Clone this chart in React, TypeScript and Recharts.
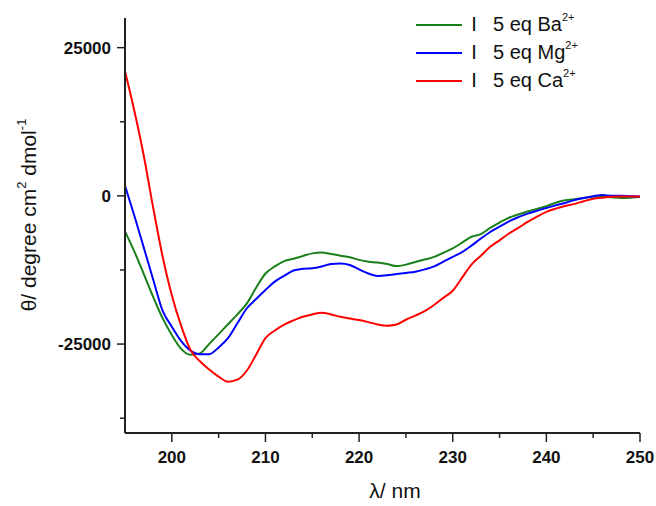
import React from 'react';
import { LineChart, Line, XAxis, YAxis, Legend } from 'recharts';

const wavelengths = [195,196,197,198,199,200,201,202,203,204,205,206,207,208,209,210,211,212,213,214,215,216,217,218,219,220,221,222,223,224,225,226,227,228,229,230,231,232,233,234,235,236,237,238,239,240,241,242,243,244,245,246,247,248,249,250];

const baValues = [-6000,-9400,-13160,-17000,-20580,-23470,-25800,-26800,-26570,-24960,-23320,-21660,-20000,-18190,-15500,-13100,-11900,-11000,-10600,-10150,-9700,-9550,-9800,-10100,-10350,-10800,-11100,-11250,-11500,-11850,-11600,-11150,-10750,-10300,-9600,-8850,-7900,-6900,-6450,-5400,-4500,-3700,-3150,-2650,-2200,-1750,-1150,-750,-550,-350,-150,-100,-250,-350,-300,-200];

const mgValues = [1700,-3350,-8690,-14070,-19300,-22070,-24500,-26100,-26700,-26700,-25560,-24000,-21500,-19000,-17400,-15880,-14470,-13480,-12600,-12300,-12200,-11900,-11500,-11400,-11650,-12400,-13100,-13500,-13400,-13200,-13000,-12800,-12400,-11900,-11100,-10300,-9500,-8400,-7200,-6100,-5200,-4300,-3600,-3000,-2500,-2050,-1600,-1200,-700,-350,-50,150,0,0,-50,-100];

const caValues = [21000,14300,6800,-1900,-10090,-16750,-21920,-26000,-27900,-29300,-30500,-31350,-31000,-29500,-26800,-24000,-22700,-21700,-21000,-20400,-20000,-19700,-20000,-20400,-20700,-20950,-21300,-21700,-21900,-21700,-20900,-20200,-19450,-18400,-17200,-16000,-13800,-11600,-10100,-8600,-7500,-6350,-5400,-4400,-3500,-2700,-2150,-1700,-1350,-900,-500,-300,-150,-100,-100,-100];

const xTicks = [200,205,210,215,220,225,230,235,240,245,250];
const yTicks = [-37500,-25000,-12500,0,12500,25000];

const seriesNames = ['5 eq Ba', '5 eq Mg', '5 eq Ca'];
const seriesColors = ['#1a801a', '#0000ff', '#ff0000'];
const seriesKeys = ['ba', 'mg', 'ca'];

const data = wavelengths.map((w, i) => ({ wl: w, ba: baValues[i], mg: mgValues[i], ca: caValues[i] }));

const FONT = 'Liberation Sans, Arial, Helvetica, sans-serif';
const AXIS_COLOR = '#222';

const XTick = (props: any) => {
  const { x, y, payload } = props;
  const v = payload.value;
  const major = v % 10 === 0;
  return (
    <g>
      <line x1={x} x2={x} y1={y} y2={y + (major ? 9 : 5)} stroke={AXIS_COLOR} strokeWidth={1.5} />
      {major && (
        <text x={x} y={y + 30} textAnchor="middle" fontFamily={FONT} fontWeight="bold" fontSize={17} fill="#111">
          {v}
        </text>
      )}
    </g>
  );
};

const YTick = (props: any) => {
  const { x, y, payload } = props;
  const v = payload.value;
  const major = v % 25000 === 0;
  return (
    <g>
      <line x1={x - (major ? 8 : 5)} x2={x} y1={y} y2={y} stroke={AXIS_COLOR} strokeWidth={1.5} />
      {major && (
        <text x={x - 14} y={y + 6} textAnchor="end" fontFamily={FONT} fontWeight="bold" fontSize={17} fill="#111">
          {v}
        </text>
      )}
    </g>
  );
};

const XTitle = () => (
  <text x={395} y={498} textAnchor="middle" fontFamily={FONT} fontSize={21} fill="#111">
    λ/ nm
  </text>
);

const YTitle = () => (
  <text transform="translate(36,215) rotate(-90)" textAnchor="middle" fontFamily={FONT} fontSize={21} fill="#111">
    <tspan>θ/ degree cm</tspan>
    <tspan fontSize={13} dy={-10}>2</tspan>
    <tspan dy={10}> dmol</tspan>
    <tspan fontSize={13} dy={-10}>-1</tspan>
  </text>
);

const LegendContent = () => {
  const left = 400;
  const rows = [25, 53, 81];
  return (
    <svg width={256} height={100} style={{ display: 'block' }}>
      {seriesNames.map((name, i) => (
        <g key={name}>
          <line x1={416 - left} x2={462 - left} y1={rows[i]} y2={rows[i]} stroke={seriesColors[i]} strokeWidth={2} />
          <text x={474 - left} y={rows[i] + 6} textAnchor="middle" fontFamily={FONT} fontSize={20} fill="#111">I</text>
          <text x={493 - left} y={rows[i] + 6} fontFamily={FONT} fontSize={20} fill="#111">
            <tspan>{name}</tspan>
            <tspan fontSize={11} dy={-10}>2+</tspan>
          </text>
        </g>
      ))}
    </svg>
  );
};

export default function App() {
  return (
    <div style={{ position: 'absolute', left: 0, top: 0, width: 656, height: 506, background: '#fff' }}>
      <LineChart width={656} height={506} data={data} margin={{ top: 18, right: 16, bottom: 0, left: 0 }}>
        <XAxis
          dataKey="wl"
          type="number"
          domain={[195, 250]}
          ticks={xTicks}
          interval={0}
          tickSize={0}
          tickMargin={0}
          tickLine={false}
          axisLine={{ stroke: AXIS_COLOR, strokeWidth: 2 }}
          tick={<XTick />}
          height={73}
          label={<XTitle />}
        />
        <YAxis
          type="number"
          domain={[-40000, 30000]}
          ticks={yTicks}
          interval={0}
          tickSize={0}
          tickMargin={0}
          tickLine={false}
          axisLine={{ stroke: AXIS_COLOR, strokeWidth: 2 }}
          tick={<YTick />}
          width={125}
          label={<YTitle />}
        />
        <Legend
          layout="vertical"
          align="center"
          verticalAlign="middle"
          content={<LegendContent />}
          wrapperStyle={{ position: 'absolute', left: 400, top: 0, width: 256, height: 100 }}
        />
        {seriesKeys.map((k, i) => (
          <Line
            key={k}
            dataKey={k}
            name={seriesNames[i]}
            type="monotone"
            stroke={seriesColors[i]}
            strokeWidth={2}
            dot={false}
            activeDot={false}
            isAnimationActive={false}
          />
        ))}
      </LineChart>
    </div>
  );
}
